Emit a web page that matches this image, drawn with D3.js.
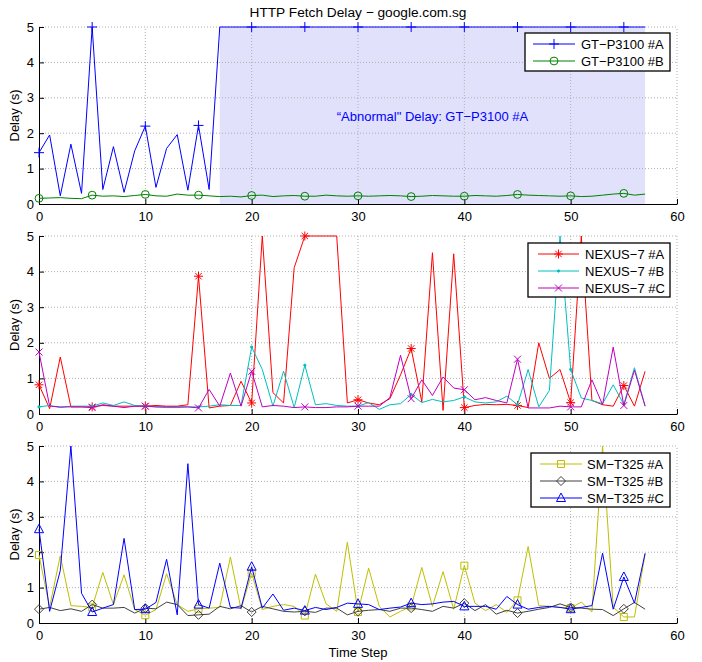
<!DOCTYPE html>
<html>
<head>
<meta charset="utf-8">
<script src="https://cdn.jsdelivr.net/npm/d3@7"></script>
<style>
  body { margin: 0; background: #fff; }
  svg { display: block; font-family: "Liberation Sans", Arial, Helvetica, sans-serif; }
  .grid line { stroke: #b0b0b0; stroke-dasharray: 1,2; stroke-width: 1; }
  .axis text { font-size: 13px; fill: #000; }
  .axis path, .axis line { stroke: #000; }
</style>
</head>
<body>
<svg id="chart" width="702" height="662"></svg>
<script>
// DATA - one value per time step (0..57)
const xTicks = [0, 10, 20, 30, 40, 50, 60];
const yTicks = [0, 1, 2, 3, 4, 5];

const gtA = [1.45, 1.95, 0.23, 1.69, 0.3, 5, 0.41, 1.62, 0.33, 1.5, 2.2, 0.47, 1.57, 1.96, 0.39, 2.22, 0.41, 5,
  5, 5, 5, 5, 5, 5, 5, 5, 5, 5, 5, 5, 5, 5, 5, 5, 5, 5, 5, 5, 5, 5, 5, 5, 5, 5, 5, 5, 5, 5, 5, 5, 5, 5, 5, 5, 5, 5, 5, 5];
const gtB = [0.16, 0.17, 0.18, 0.16, 0.15, 0.25, 0.22, 0.23, 0.21, 0.24, 0.27, 0.23, 0.22, 0.28, 0.25, 0.25, 0.23, 0.21,
  0.22, 0.2, 0.24, 0.25, 0.21, 0.23, 0.24, 0.22, 0.22, 0.25, 0.23, 0.22, 0.23, 0.22, 0.23, 0.24, 0.23, 0.21, 0.22, 0.24,
  0.23, 0.22, 0.22, 0.24, 0.23, 0.22, 0.24, 0.27, 0.25, 0.24, 0.23, 0.22, 0.23, 0.21, 0.22, 0.25, 0.28, 0.3, 0.25, 0.28];

const nxA = [0.82, 0.15, 1.6, 0.2, 0.2, 0.2, 0.24, 0.22, 0.22, 0.22, 0.22, 0.24, 0.22, 0.22, 0.26, 3.87, 0.17, 0.22, 0.24,
  0.92, 0.31, 5, 0.6, 0.31, 4.11, 5, 5, 5, 5, 0.31, 0.4, 0.31, 0.26, 0.43, 1.1, 1.84, 0.34, 4.53, 0.1, 4.5, 0.18, 0.24,
  0.27, 0.26, 0.27, 0.24, 0.18, 2.0, 1.0, 1.25, 0.32, 5, 0.38, 0.26, 0.22, 0.8, 0.22, 1.2];
const nxB = [0.2, 0.24, 0.18, 0.22, 0.22, 0.22, 0.31, 0.24, 0.34, 0.24, 0.22, 0.2, 0.18, 0.18, 0.2, 0.2, 0.22, 0.26, 0.24,
  0.24, 1.88, 1.25, 0.22, 1.2, 0.18, 1.37, 0.26, 0.29, 0.24, 0.22, 0.22, 0.32, 0.13, 0.26, 0.29, 0.55, 0.32, 0.41, 0.34,
  0.38, 0.48, 0.34, 0.31, 0.34, 0.5, 0.26, 1.25, 0.2, 0.66, 5, 1.25, 0.45, 0.38, 0.29, 0.82, 0.27, 1.3, 0.22];
const nxC = [1.74, 0.22, 0.2, 0.2, 0.2, 0.18, 0.26, 0.22, 0.18, 0.22, 0.22, 0.2, 0.2, 0.2, 0.2, 0.17, 0.69, 0.22, 1.15,
  0.22, 1.2, 0.2, 0.24, 0.22, 0.18, 0.2, 0.18, 0.18, 0.2, 0.2, 0.22, 0.22, 0.22, 0.46, 1.65, 0.43, 0.96, 0.52, 1.04,
  0.73, 0.68, 0.4, 0.46, 0.38, 0.31, 1.54, 0.17, 0.17, 0.17, 0.22, 0.2, 0.2, 0.96, 0.26, 1.88, 0.24, 1.23, 0.22];

const smA = [1.92, 0.45, 1.9, 0.49, 0.47, 0.44, 1.43, 0.52, 1.36, 0.38, 0.22, 0.38, 1.39, 0.52, 0.33, 0.4, 0.42, 0.44,
  1.86, 0.39, 1.41, 0.38, 0.47, 0.52, 0.47, 0.21, 1.38, 0.54, 0.33, 2.28, 0.31, 1.55, 0.47, 0.17, 0.33, 0.47, 1.57, 0.47,
  1.45, 0.39, 1.62, 0.56, 0.35, 0.52, 0.3, 0.64, 2.16, 0.49, 0.47, 0.44, 0.42, 0.59, 0.31, 5, 0.45, 0.17, 0.17, 1.95];
const smB = [0.39, 0.44, 0.35, 0.4, 0.33, 0.52, 0.42, 0.42, 0.44, 0.28, 0.42, 0.4, 0.59, 0.52, 0.21, 0.23, 0.25, 0.47,
  0.4, 0.49, 0.31, 0.47, 0.4, 0.33, 0.31, 0.33, 0.3, 0.42, 0.42, 0.23, 0.33, 0.36, 0.38, 0.33, 0.42, 0.42, 0.38, 0.33,
  0.47, 0.42, 0.56, 0.35, 0.52, 0.25, 0.36, 0.28, 0.33, 0.39, 0.44, 0.54, 0.44, 0.42, 0.39, 0.38, 0.21, 0.4, 0.58, 0.39];
const smC = [2.65, 0.33, 1.48, 5, 0.84, 0.31, 0.42, 0.52, 2.39, 0.38, 0.39, 0.58, 1.8, 0.23, 4.5, 0.52, 0.42, 1.69, 0.44,
  0.42, 1.59, 0.42, 0.82, 0.36, 0.42, 0.35, 0.44, 0.38, 0.44, 0.56, 0.54, 0.52, 0.38, 0.42, 0.45, 0.56, 0.52, 0.54, 0.59,
  0.61, 0.47, 0.47, 0.47, 0.39, 0.75, 0.52, 0.39, 0.44, 0.47, 0.44, 0.39, 0.44, 0.49, 1.97, 0.39, 1.3, 0.56, 1.97];

// shaded "abnormal" region for GT-P3100 #A (time steps)
const abnormalRange = [17, 57];

const svg = d3.select("#chart");
const x = d3.scaleLinear().domain([0, 60]).range([39, 677]);

// panels: y0 = pixel of 0 s, y5 = pixel of 5 s
const panels = [
  { y0: 204, y5: 27, legend: { x: 525, y: 33, w: 145, line: [533, 575], text: 581 },
    series: [
      { name: "GT\u2212P3100 #A", data: gtA, color: "#0000ff", marker: "plus" },
      { name: "GT\u2212P3100 #B", data: gtB, color: "#008000", marker: "circle" }
    ] },
  { y0: 414, y5: 236, legend: { x: 528, y: 243, w: 142, line: [538, 579], text: 585 },
    series: [
      { name: "NEXUS\u22127 #A", data: nxA, color: "#ff0000", marker: "star" },
      { name: "NEXUS\u22127 #B", data: nxB, color: "#00bfbf", marker: "dot" },
      { name: "NEXUS\u22127 #C", data: nxC, color: "#bf00bf", marker: "x" }
    ] },
  { y0: 623, y5: 446, legend: { x: 531, y: 453, w: 139, line: [540, 582], text: 587 },
    series: [
      { name: "SM\u2212T325 #A", data: smA, color: "#bfbf00", marker: "square" },
      { name: "SM\u2212T325 #B", data: smB, color: "#404040", marker: "diamond" },
      { name: "SM\u2212T325 #C", data: smC, color: "#0000ff", marker: "triangle" }
    ] }
];

// marker path centred at 0,0
function markerPath(type){
  switch(type){
    case "plus": return "M-5,0H5M0,-5V5";
    case "x": return "M-3.5,-3.5L3.5,3.5M-3.5,3.5L3.5,-3.5";
    case "star": return "M-4.5,0H4.5M0,-4.5V4.5M-3.2,-3.2L3.2,3.2M-3.2,3.2L3.2,-3.2";
    case "circle": return d3.symbol(d3.symbolCircle, 48)();
    case "square": return "M-3.5,-3.5H3.5V3.5H-3.5Z";
    case "diamond": return "M0,-4.5L4.5,0L0,4.5L-4.5,0Z";
    case "triangle": return "M0,-5L4.5,3.5H-4.5Z";
    case "dot": return d3.symbol(d3.symbolCircle, 4)();
  }
}

function drawMarker(g, type, color, cx, cy){
  g.append("path")
    .attr("transform", "translate(" + cx + "," + cy + ")")
    .attr("d", markerPath(type))
    .attr("fill", type == "dot" ? color : "none")
    .attr("stroke", color)
    .attr("stroke-width", 1);
}

panels.forEach(function(p, pi){
  const y = d3.scaleLinear().domain([0, 5]).range([p.y0, p.y5]);
  const g = svg.append("g");

  // shaded region only on top panel
  if(pi == 0){
    g.append("rect")
      .attr("x", x(abnormalRange[0]))
      .attr("y", y(5))
      .attr("width", x(abnormalRange[1]) - x(abnormalRange[0]))
      .attr("height", y(0) - y(5))
      .attr("fill", "#e1e1fb");
  }

  // grid
  const grid = g.append("g").attr("class", "grid");
  grid.selectAll(".gx").data(xTicks.slice(1)).enter().append("line")
    .attr("x1", d => x(d)).attr("x2", d => x(d))
    .attr("y1", y(0)).attr("y2", y(5));
  grid.selectAll(".gy").data(yTicks.slice(1)).enter().append("line")
    .attr("x1", x(0)).attr("x2", x(60))
    .attr("y1", d => y(d)).attr("y2", d => y(d));

  // axes (matlab style, ticks pointing inward)
  g.append("g").attr("class", "axis")
    .attr("transform", "translate(0," + y(0) + ")")
    .call(d3.axisBottom(x).tickValues(xTicks).tickFormat(d3.format("d")).tickSize(-5).tickSizeOuter(0).tickPadding(8));
  g.append("g").attr("class", "axis")
    .attr("transform", "translate(" + x(0) + ",0)")
    .call(d3.axisLeft(y).tickValues(yTicks).tickFormat(d3.format("d")).tickSize(-5).tickSizeOuter(0).tickPadding(5));

  // series
  const line = d3.line().x((d, i) => x(i)).y(d => y(d));
  p.series.forEach(function(s){
    g.append("path")
      .datum(s.data)
      .attr("d", line)
      .attr("fill", "none")
      .attr("stroke", s.color)
      .attr("stroke-width", 1);
    s.data.forEach(function(v, i){
      if(i % 5 == 0) drawMarker(g, s.marker, s.color, x(i), y(v));
    });
  });

  // y label
  g.append("text")
    .attr("transform", "translate(19," + (p.y0 + p.y5) / 2 + ") rotate(-90)")
    .attr("text-anchor", "middle")
    .attr("font-size", 13)
    .text("Delay (s)");

  // legend
  const L = p.legend;
  const lh = p.series.length == 2 ? 38 : 54;
  const lg = g.append("g");
  lg.append("rect")
    .attr("x", L.x).attr("y", L.y)
    .attr("width", L.w).attr("height", lh)
    .attr("fill", "#fff").attr("stroke", "#000").attr("stroke-width", 1.3);
  p.series.forEach(function(s, k){
    const ry = L.y + 11 + k * 17;
    lg.append("line")
      .attr("x1", L.line[0]).attr("x2", L.line[1])
      .attr("y1", ry).attr("y2", ry)
      .attr("stroke", s.color).attr("stroke-width", 1);
    drawMarker(lg, s.marker, s.color, (L.line[0] + L.line[1]) / 2, ry);
    lg.append("text")
      .attr("x", L.text).attr("y", ry + 5)
      .attr("font-size", 13)
      .text(s.name);
  });

  if(pi == 0){
    g.append("text")
      .attr("x", x(37)).attr("y", y(2.5) + 5)
      .attr("text-anchor", "middle")
      .attr("font-size", 13)
      .attr("fill", "#0000ff")
      .text("\u201CAbnormal\" Delay: GT\u2212P3100 #A");
  }
});

// title and x label
svg.append("text")
  .attr("x", 358).attr("y", 17)
  .attr("text-anchor", "middle")
  .attr("font-size", 13.7)
  .text("HTTP Fetch Delay \u2212 google.com.sg");
svg.append("text")
  .attr("x", 358).attr("y", 657)
  .attr("text-anchor", "middle")
  .attr("font-size", 13)
  .text("Time Step");
</script>
</body>
</html>
